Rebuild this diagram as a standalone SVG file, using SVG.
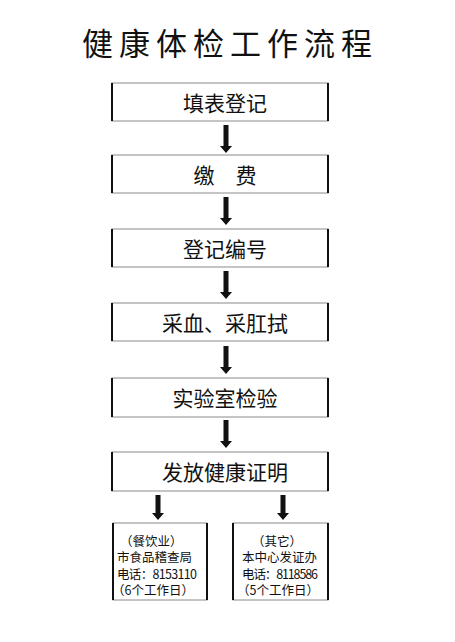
<svg xmlns="http://www.w3.org/2000/svg" width="455" height="642" viewBox="0 0 455 642">
<style>
.bg{fill:#fff}
.box{fill:#fff;stroke:#8a8a8a;stroke-width:1}
.side{stroke:#111;stroke-width:2}
.lbl{font-family:"Noto Sans CJK SC","Noto Sans",sans-serif;font-size:21px;fill:#111;text-anchor:middle}
.sm{font-family:"Noto Sans CJK SC","Noto Sans",sans-serif;font-size:12.5px;fill:#111}
.ttl{font-family:"Noto Sans CJK SC","Noto Sans",sans-serif;font-size:31px;fill:#111;letter-spacing:6px}
.arr{fill:#111}
</style>
<defs>
<path id="bigArrow" d="M-2.5,0 H2.5 V21 H6 L0,28 L-6,21 H-2.5 Z"/>
<path id="smArrow" d="M-2.5,0 H2.5 V18 H6 L0,25 L-6,18 H-2.5 Z"/>
</defs>
<rect class="bg" x="0" y="0" width="455" height="642"/>
<text class="ttl" x="82" y="55">健康体检工作流程</text>

<g id="connectors" class="arr">
<use href="#bigArrow" x="226" y="125"/>
<use href="#bigArrow" x="226" y="197"/>
<use href="#bigArrow" x="226" y="271"/>
<use href="#bigArrow" x="226" y="346"/>
<use href="#bigArrow" x="226" y="420"/>
<use href="#smArrow" x="158" y="495"/>
<use href="#smArrow" x="283" y="495"/>
</g>

<g id="n1"><rect class="box" x="112" y="83" width="216" height="38"/><line class="side" x1="112" y1="83" x2="112" y2="121"/><line class="side" x1="328" y1="83" x2="328" y2="121"/><text class="lbl" x="225" y="111">填表登记</text></g>
<g id="n2"><rect class="box" x="112" y="155" width="216" height="38"/><line class="side" x1="112" y1="155" x2="112" y2="193"/><line class="side" x1="328" y1="155" x2="328" y2="193"/><text class="lbl" x="225" y="183">缴　费</text></g>
<g id="n3"><rect class="box" x="112" y="229" width="216" height="38"/><line class="side" x1="112" y1="229" x2="112" y2="267"/><line class="side" x1="328" y1="229" x2="328" y2="267"/><text class="lbl" x="225" y="257">登记编号</text></g>
<g id="n4"><rect class="box" x="112" y="303" width="216" height="38"/><line class="side" x1="112" y1="303" x2="112" y2="341"/><line class="side" x1="328" y1="303" x2="328" y2="341"/><text class="lbl" x="225" y="331">采血、采肛拭</text></g>
<g id="n5"><rect class="box" x="112" y="378" width="216" height="39"/><line class="side" x1="112" y1="378" x2="112" y2="417"/><line class="side" x1="328" y1="378" x2="328" y2="417"/><text class="lbl" x="225" y="406">实验室检验</text></g>
<g id="n6"><rect class="box" x="112" y="452" width="216" height="39"/><line class="side" x1="112" y1="452" x2="112" y2="491"/><line class="side" x1="328" y1="452" x2="328" y2="491"/><text class="lbl" x="225" y="480">发放健康证明</text></g>

<g id="n7"><rect class="box" x="113" y="523" width="94" height="77"/><line class="side" x1="113" y1="523" x2="113" y2="600"/><line class="side" x1="207" y1="523" x2="207" y2="600"/>
<text class="sm" x="120" y="546">（餐饮业）</text>
<text class="sm" x="117" y="562">市食品稽查局</text>
<text class="sm" x="117" y="579" textLength="80">电话：8153110</text>
<text class="sm" x="112" y="595">（6个工作日）</text></g>
<g id="n8"><rect class="box" x="233" y="523" width="95" height="77"/><line class="side" x1="233" y1="523" x2="233" y2="600"/><line class="side" x1="328" y1="523" x2="328" y2="600"/>
<text class="sm" x="252" y="546">（其它）</text>
<text class="sm" x="242" y="562">本中心发证办</text>
<text class="sm" x="242" y="579" textLength="76">电话：8118586</text>
<text class="sm" x="237" y="595">（5个工作日）</text></g>
</svg>
